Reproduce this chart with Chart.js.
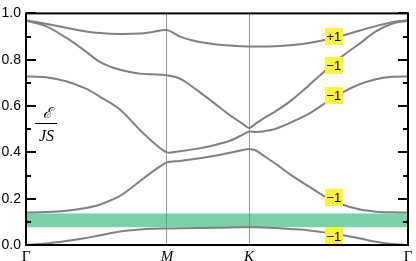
<!DOCTYPE html>
<html><head><meta charset="utf-8">
<script src="https://cdn.jsdelivr.net/npm/chart.js@4/dist/chart.umd.min.js"></script>
<style>html,body{margin:0;padding:0;background:#fff}canvas{display:block}</style>
</head><body>
<canvas id="c" width="416" height="261"></canvas>
<script>
// k-path coordinate (fraction of Γ–M–K–Γ path)
const kPath = [0,0.052,0.105,0.157,0.194,0.246,0.298,0.332,0.369,0.403,0.445,0.490,0.534,0.568,0.584,0.602,0.620,0.654,0.691,0.741,0.785,0.830,0.872,0.916,0.958,1];
const kTicks = [0, 0.369, 0.584, 1];
const kTickLabels = ['Γ', 'M', 'K', 'Γ'];
// energies E/JS for the five bands
const band1 = [0,0.006,0.017,0.030,0.042,0.058,0.067,0.070,0.071,0.072,0.073,0.074,0.076,0.077,0.077,0.077,0.076,0.073,0.069,0.063,0.053,0.042,0.029,0.014,0.004,0];
const band2 = [0.140,0.142,0.148,0.160,0.175,0.212,0.275,0.318,0.357,0.363,0.372,0.384,0.398,0.410,0.415,0.408,0.388,0.350,0.305,0.252,0.207,0.174,0.154,0.144,0.141,0.140];
const band3 = [0.728,0.724,0.707,0.675,0.640,0.585,0.497,0.445,0.400,0.405,0.415,0.430,0.450,0.477,0.490,0.488,0.490,0.502,0.527,0.567,0.615,0.660,0.693,0.716,0.726,0.728];
const band4 = [0.968,0.945,0.895,0.835,0.790,0.757,0.740,0.737,0.733,0.718,0.672,0.616,0.560,0.522,0.505,0.525,0.545,0.578,0.620,0.690,0.755,0.818,0.868,0.922,0.955,0.968];
const band5 = [0.970,0.955,0.938,0.922,0.915,0.911,0.913,0.920,0.928,0.900,0.880,0.868,0.861,0.858,0.857,0.857,0.857,0.858,0.862,0.872,0.886,0.905,0.925,0.945,0.962,0.970];
// gap band (green)
const gapRange = [0.077, 0.136];
// Chern number labels
const chernK = [0.806, 0.806, 0.806, 0.806, 0.806];
const chernE = [0.899, 0.775, 0.644, 0.205, 0.039];
const chernText = ['+1', '\u22121', '\u22121', '\u22121', '\u22121'];
// y ticks
const yMajor = [0, 0.2, 0.4, 0.6, 0.8, 1.0];
const yMinor = [0.1, 0.3, 0.5, 0.7, 0.9];

const pts = arr => arr.map((v, i) => ({x: kPath[i], y: v}));
const curveStyle = {borderColor: '#808080', borderWidth: 2, pointRadius: 0, tension: 0.3, fill: false};

const overlay = {
  id: 'overlay',
  afterDatasetsDraw(chart) {
    const {ctx, chartArea: a, scales: {x, y}} = chart;
    ctx.save();
    // frame
    ctx.strokeStyle = '#000';
    ctx.lineWidth = 2;
    ctx.strokeRect(a.left, a.top, a.right - a.left, a.bottom - a.top);
    // inward ticks left and right
    ctx.beginPath();
    yMajor.forEach(v => {
      const py = Math.round(y.getPixelForValue(v));
      ctx.moveTo(a.left, py); ctx.lineTo(a.left + 10, py);
      ctx.moveTo(a.right, py); ctx.lineTo(a.right - 10, py);
    });
    yMinor.forEach(v => {
      const py = Math.round(y.getPixelForValue(v));
      ctx.moveTo(a.left, py); ctx.lineTo(a.left + 5, py);
      ctx.moveTo(a.right, py); ctx.lineTo(a.right - 5, py);
    });
    ctx.stroke();
    // Chern labels
    ctx.font = '13px "Liberation Sans", Arial, sans-serif';
    ctx.textAlign = 'center';
    ctx.textBaseline = 'middle';
    chernK.forEach((k, i) => {
      const px = x.getPixelForValue(k), py = y.getPixelForValue(chernE[i]);
      ctx.fillStyle = '#f9f43c';
      ctx.fillRect(Math.round(px - 9), Math.round(py - 8.5), 18, 17);
      ctx.fillStyle = '#000';
      ctx.fillText(chernText[i], px, py + 1);
    });
    // axis title  E / JS
    ctx.fillStyle = '#000';
    ctx.font = 'italic 15px "DejaVu Serif", "Liberation Serif", serif';
    ctx.fillText('\u2130', 47, 114);
    ctx.fillRect(35, 123, 22, 1);
    ctx.font = 'italic 16px "Liberation Serif", serif';
    ctx.fillText('JS', 46.5, 137);
    ctx.restore();
  }
};

new Chart(document.getElementById('c'), {
  type: 'line',
  data: {
    datasets: [
      {data: pts(band1), ...curveStyle},
      {data: pts(band2), ...curveStyle},
      {data: pts(band3), ...curveStyle},
      {data: pts(band4), ...curveStyle},
      {data: pts(band5), ...curveStyle},
      {data: [{x: 0, y: gapRange[0]}, {x: 1, y: gapRange[0]}], borderWidth: 0, pointRadius: 0, fill: false},
      {data: [{x: 0, y: gapRange[1]}, {x: 1, y: gapRange[1]}], borderWidth: 0, pointRadius: 0, fill: '-1', backgroundColor: 'rgba(38,182,113,0.62)'}
    ]
  },
  options: {
    responsive: false,
    animation: false,
    events: [],
    layout: {padding: {top: 7, right: 8, left: 0, bottom: 0}},
    plugins: {legend: {display: false}, tooltip: {enabled: false}},
    scales: {
      x: {
        type: 'linear', min: 0, max: 1,
        afterBuildTicks: s => { s.ticks = kTicks.map(v => ({value: v})); },
        afterFit: s => { s.height = 16; },
        ticks: {
          autoSkip: false, maxRotation: 0, padding: 3, color: '#000',
          callback: (v, i) => kTickLabels[i],
          font: c => ({family: '"Liberation Serif", serif', size: 15, style: (c.index === 1 || c.index === 2) ? 'italic' : 'normal'})
        },
        grid: {drawTicks: false, lineWidth: 1, color: c => (c.index === 1 || c.index === 2) ? '#9a9a9a' : 'rgba(0,0,0,0)'},
        border: {display: false}
      },
      y: {
        type: 'linear', min: 0, max: 1,
        afterBuildTicks: s => { s.ticks = yMajor.map(v => ({value: v})); },
        afterFit: s => { s.width = 26; },
        ticks: {padding: 5, color: '#000', font: {family: '"Liberation Sans", Arial, sans-serif', size: 14}, callback: v => v.toFixed(1)},
        grid: {display: false, drawTicks: false},
        border: {display: false}
      }
    }
  },
  plugins: [overlay]
});
</script>
</body></html>
